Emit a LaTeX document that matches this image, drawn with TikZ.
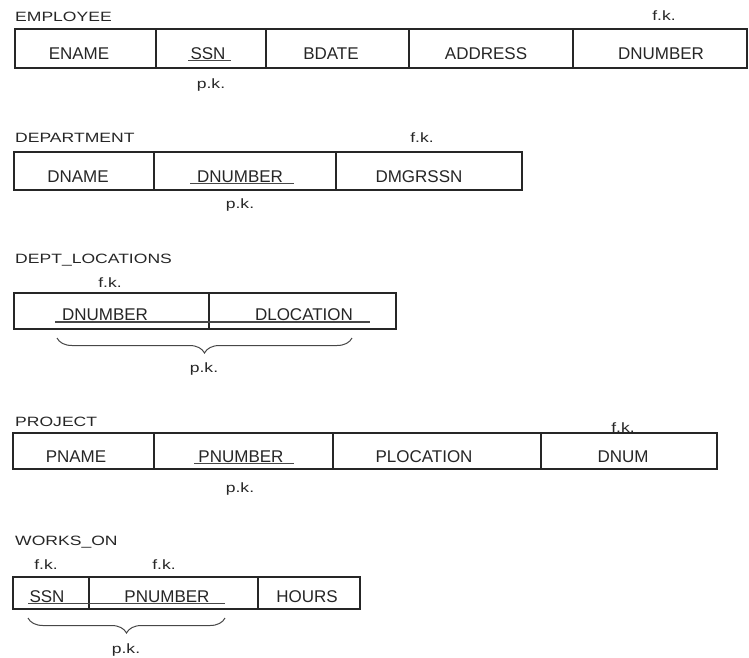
\documentclass[tikz,border=0pt]{standalone}
\usepackage{fontspec}
\setmainfont{Liberation Sans}
\newfontfamily\lblfont[FakeStretch=1.3]{Liberation Sans}
\usetikzlibrary{decorations.pathreplacing}
\definecolor{ink}{HTML}{262626}
\begin{document}
\begin{tikzpicture}[x=1pt,y=-1pt,
  cell/.style={draw=ink, line width=1.3pt, anchor=north west, inner sep=0pt, outer sep=0pt},
  ctext/.style={anchor=base, font=\fontsize{17}{20}\selectfont, text=ink, inner sep=0pt},
  title/.style={anchor=base west, font=\lblfont\fontsize{13.5}{16}\selectfont, text=ink, inner sep=0pt},
  key/.style={anchor=base, font=\lblfont\fontsize{13.5}{16}\selectfont, text=ink, inner sep=0pt},
  ul/.style={draw=ink!85, line width=1.3pt},
  brc/.style={draw=ink!85, line width=1pt, decorate, decoration={brace, amplitude=15pt, mirror}}]
\useasboundingbox (0,0) rectangle (749,657);

% ---------------- EMPLOYEE
\node[title] (empT) at (15,21) {EMPLOYEE};
\node[cell, minimum width=141, minimum height=39] (emp1) at (15,29) {};
\node[cell, minimum width=110, minimum height=39] (emp2) at (156,29) {};
\node[cell, minimum width=143, minimum height=39] (emp3) at (266,29) {};
\node[cell, minimum width=164, minimum height=39] (emp4) at (409,29) {};
\node[cell, minimum width=174, minimum height=39] (emp5) at (573,29) {};
\node[ctext] (empA) at (79,59) {ENAME};
\node[ctext] (empB) at (208,59) {SSN};
\node[ctext] (empC) at (331,59) {BDATE};
\node[ctext] (empD) at (486,59) {ADDRESS};
\node[ctext] (empE) at (661,59) {DNUMBER};
\coordinate (empU1) at (188,60.5);
\coordinate (empU2) at (231,60.5);
\draw[ul] (empU1) -- (empU2);
\node[key] (empPK) at (211,88) {p.k.};
\node[key] (empFK) at (664,20) {f.k.};

% ---------------- DEPARTMENT
\node[title] (depT) at (15,142) {DEPARTMENT};
\node[cell, minimum width=140, minimum height=38] (dep1) at (14,152) {};
\node[cell, minimum width=182, minimum height=38] (dep2) at (154,152) {};
\node[cell, minimum width=186, minimum height=38] (dep3) at (336,152) {};
\node[ctext] (depA) at (78,182) {DNAME};
\node[ctext] (depB) at (240,182) {DNUMBER};
\node[ctext] (depC) at (419,182) {DMGRSSN};
\coordinate (depU1) at (190,183.5);
\coordinate (depU2) at (294,183.5);
\draw[ul] (depU1) -- (depU2);
\node[key] (depPK) at (240,208) {p.k.};
\node[key] (depFK) at (422,142) {f.k.};

% ---------------- DEPT_LOCATIONS
\node[title] (dlT) at (15,263) {DEPT\_LOCATIONS};
\node[key] (dlFK) at (110,287) {f.k.};
\node[cell, minimum width=195, minimum height=36] (dl1) at (14,293) {};
\node[cell, minimum width=187, minimum height=36] (dl2) at (209,293) {};
\node[ctext] (dlA) at (105,320) {DNUMBER};
\node[ctext] (dlB) at (304,320) {DLOCATION};
\coordinate (dlU1) at (55,322);
\coordinate (dlU2) at (370,322);
\draw[ul] (dlU1) -- (dlU2);
\coordinate (dlB1) at (57,338);
\coordinate (dlB2) at (352,338);
\draw[brc] (dlB1) -- (dlB2);
\node[key] (dlPK) at (204,372) {p.k.};

% ---------------- PROJECT
\node[title] (prT) at (15,426) {PROJECT};
\node[cell, minimum width=141, minimum height=36] (pr1) at (13,433) {};
\node[cell, minimum width=179, minimum height=36] (pr2) at (154,433) {};
\node[cell, minimum width=208, minimum height=36] (pr3) at (333,433) {};
\node[cell, minimum width=176, minimum height=36] (pr4) at (541,433) {};
\node[ctext] (prA) at (76,462) {PNAME};
\node[ctext] (prB) at (241,462) {PNUMBER};
\node[ctext] (prC) at (424,462) {PLOCATION};
\node[ctext] (prD) at (623,462) {DNUM};
\coordinate (prU1) at (194,463.5);
\coordinate (prU2) at (294,463.5);
\draw[ul] (prU1) -- (prU2);
\node[key] (prPK) at (240,492) {p.k.};
\node[key] (prFK) at (623,432) {f.k.};

% ---------------- WORKS_ON
\node[title] (woT) at (15,545) {WORKS\_ON};
\node[key] (woFK1) at (46,569) {f.k.};
\node[key] (woFK2) at (164,569) {f.k.};
\node[cell, minimum width=76, minimum height=32] (wo1) at (13,577) {};
\node[cell, minimum width=169, minimum height=32] (wo2) at (89,577) {};
\node[cell, minimum width=102, minimum height=32] (wo3) at (258,577) {};
\node[ctext] (woA) at (47,602) {SSN};
\node[ctext] (woB) at (167,602) {PNUMBER};
\node[ctext] (woC) at (307,602) {HOURS};
\coordinate (woU1) at (28,603.5);
\coordinate (woU2) at (225,603.5);
\draw[ul] (woU1) -- (woU2);
\coordinate (woB1) at (28,618);
\coordinate (woB2) at (225,618);
\draw[brc] (woB1) -- (woB2);
\node[key] (woPK) at (126,653) {p.k.};
\end{tikzpicture}
\end{document}
